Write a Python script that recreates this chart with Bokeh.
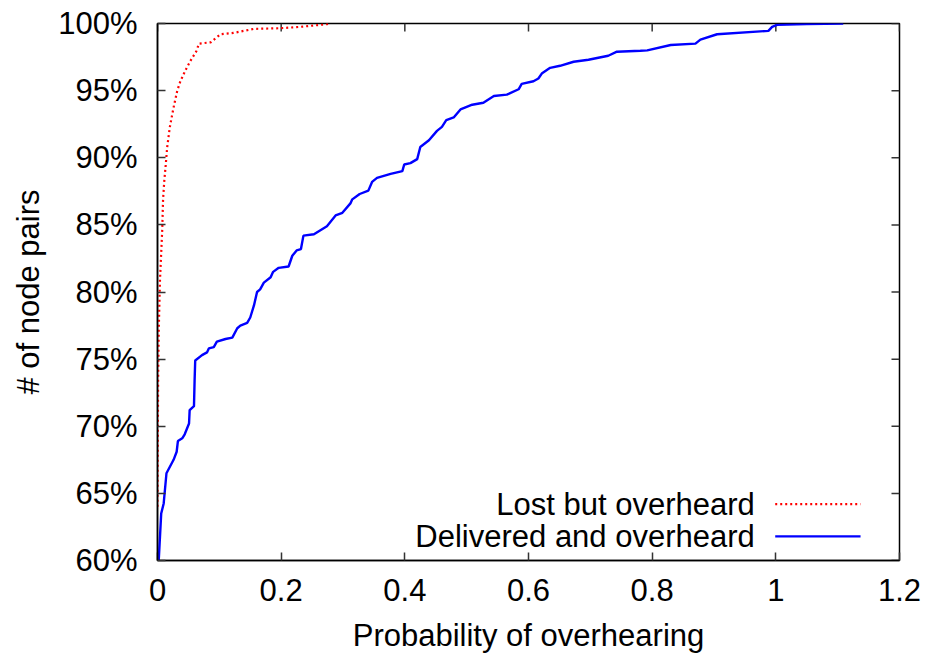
import math
from bokeh.plotting import figure
from bokeh.models import Range1d, FixedTicker
from bokeh.embed import file_html
from bokeh.resources import INLINE
from bokeh.core.properties import value

# CDF of overhearing probability per node pair (y in percent)
lost_x = [0.0, 0.001, 0.002, 0.004, 0.0076, 0.009, 0.011, 0.013, 0.0157, 0.020,
          0.026, 0.032, 0.037, 0.045, 0.053, 0.063, 0.067, 0.086, 0.102, 0.123,
          0.156, 0.199, 0.231, 0.274, 0.280]
lost_y = [64.0, 73.4, 77.1, 80.85, 84.6, 86.9, 88.3, 89.3, 90.8, 92.3,
          93.75, 95.0, 95.7, 96.5, 97.2, 97.95, 98.5, 98.6, 99.2, 99.3,
          99.6, 99.65, 99.75, 99.95, 100.0]

deliv_x = [0.002, 0.006, 0.010, 0.0145, 0.026, 0.031, 0.033, 0.040, 0.044, 0.051,
           0.052, 0.059, 0.060, 0.061, 0.072, 0.080, 0.083, 0.091, 0.096, 0.110,
           0.121, 0.129, 0.134, 0.145, 0.150, 0.156, 0.161, 0.166, 0.172, 0.183,
           0.187, 0.196, 0.212, 0.218, 0.225, 0.232, 0.236, 0.253, 0.274, 0.288,
           0.299, 0.312, 0.315, 0.327, 0.341, 0.347, 0.355, 0.377, 0.396, 0.399,
           0.409, 0.420, 0.425, 0.439, 0.452, 0.460, 0.467, 0.479, 0.490, 0.509,
           0.527, 0.544, 0.565, 0.584, 0.589, 0.608, 0.616, 0.622, 0.635, 0.651,
           0.673, 0.697, 0.729, 0.743, 0.781, 0.792, 0.830, 0.870, 0.878, 0.905,
           0.988, 0.994, 1.002, 1.050, 1.109]
deliv_y = [60.0, 63.5, 64.25, 66.5, 67.5, 68.1, 68.9, 69.1, 69.4, 70.2,
           71.2, 71.5, 73.4, 74.9, 75.3, 75.5, 75.8, 75.9, 76.3, 76.5,
           76.6, 77.3, 77.5, 77.7, 78.1, 79.0, 80.0, 80.2, 80.7, 81.1,
           81.5, 81.8, 81.9, 82.7, 83.1, 83.2, 84.2, 84.3, 84.9, 85.7,
           85.9, 86.6, 86.9, 87.3, 87.55, 88.2, 88.5, 88.8, 89.0, 89.5,
           89.6, 89.9, 90.8, 91.3, 92.0, 92.3, 92.8, 93.0, 93.6, 93.95,
           94.1, 94.6, 94.7, 95.1, 95.5, 95.7, 95.9, 96.3, 96.7, 96.85,
           97.15, 97.3, 97.6, 97.9, 97.97, 98.0, 98.4, 98.5, 98.8, 99.2,
           99.45, 99.75, 99.9, 99.95, 100.0]

series_names = ["Lost but overheard", "Delivered and overheard"]

x_ticks = [0, 0.2, 0.4, 0.6, 0.8, 1, 1.2]
x_tick_labels = ["0", "0.2", "0.4", "0.6", "0.8", "1", "1.2"]
y_ticks = [60, 65, 70, 75, 80, 85, 90, 95, 100]
y_tick_labels = ["60%", "65%", "70%", "75%", "80%", "85%", "90%", "95%", "100%"]

FONT = "Liberation Sans"
FS = "31px"
TICK_LEN = 8
TICK_COLOR = "#333333"

X0, X1 = 0, 1.2
Y0, Y1 = 60, 100

p = figure(width=930, height=660, output_backend="svg", toolbar_location=None,
           x_range=Range1d(X0, X1), y_range=Range1d(Y0, Y1),
           min_border_left=157, min_border_right=31, min_border_top=23,
           min_border_bottom=100)
p.grid.visible = False
p.outline_line_color = "black"
p.outline_line_width = 1.5
p.background_fill_color = "white"
p.border_fill_color = "white"


def style_axis(ax, ticks, labels):
    ax.ticker = FixedTicker(ticks=ticks)
    ax.minor_tick_line_color = None
    ax.major_tick_in = TICK_LEN
    ax.major_tick_out = 0
    ax.major_tick_line_color = TICK_COLOR
    ax.major_tick_line_width = 1.5
    ax.axis_line_color = "black"
    ax.axis_line_width = 1.5
    ax.major_label_overrides = {t: l for t, l in zip(ticks, labels)}
    ax.major_label_text_font = FONT
    ax.major_label_text_font_size = FS
    ax.major_label_text_color = "black"
    ax.axis_label_text_font = FONT
    ax.axis_label_text_font_size = FS
    ax.axis_label_text_font_style = "normal"
    ax.axis_label_text_color = "black"


xa = p.xaxis[0]
ya = p.yaxis[0]
style_axis(xa, x_ticks, x_tick_labels)
style_axis(ya, y_ticks, y_tick_labels)
xa.major_label_standoff = 18
ya.major_label_standoff = 20
xa.axis_label = "Probability of overhearing"
ya.axis_label = "# of node pairs"
xa.axis_label_standoff = 14
ya.axis_label_standoff = 9

# mirrored tick marks on the top and right edges of the frame
p.ray(x=x_ticks, y=[Y1] * len(x_ticks), length=TICK_LEN, length_units="screen",
      angle=-math.pi / 2, line_color=TICK_COLOR, line_width=1.5)
p.ray(x=[X1] * len(y_ticks), y=y_ticks, length=TICK_LEN, length_units="screen",
      angle=math.pi, line_color=TICK_COLOR, line_width=1.5)

red = "#ff0000"
blue = "#0000ff"
p.line(lost_x, lost_y, line_color=red, line_width=2.2, line_dash="2 3")
p.line(deliv_x, deliv_y, line_color=blue, line_width=2.4)

# key in the lower right, sample line to the right of each label
key_text_x = 0.966
key_x0, key_x1 = 0.999, 1.137
key_rows = [64.2, 61.8]
styles = [dict(line_color=red, line_width=2.2, line_dash="2 3"),
          dict(line_color=blue, line_width=2.4)]
for name, ky, st in zip(series_names, key_rows, styles):
    p.text(x=[key_text_x], y=[ky], text=[name], text_align="right",
           text_baseline="middle", text_font=value(FONT),
           text_font_size=FS, text_color="black")
    p.line([key_x0, key_x1], [ky, ky], **st)

open("out.html", "w").write(file_html(p, INLINE))
